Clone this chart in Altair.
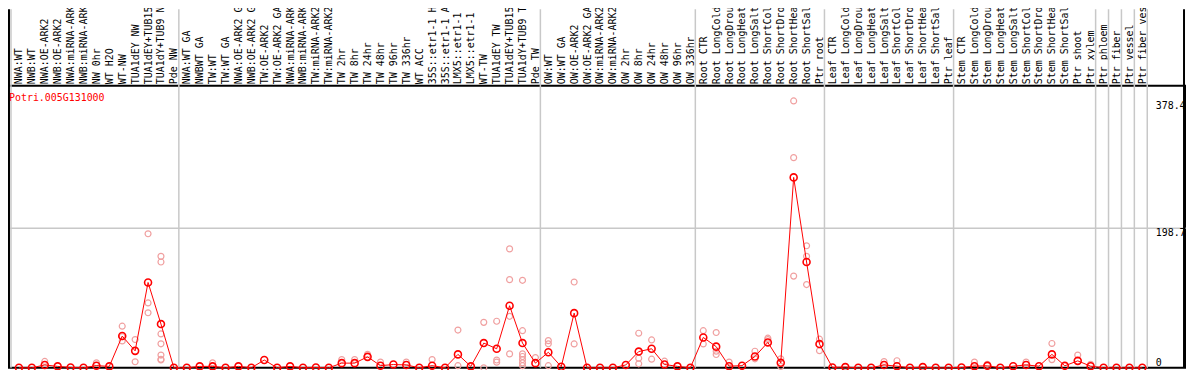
import json
import altair as alt
import pandas as pd

gene = "Potri.005G131000"

labels_nw = ["NWA:WT", "NWB:WT", "NWA:OE-ARK2", "NWB:OE-ARK2", "NWA:miRNA-ARK2",
             "NWB:miRNA-ARK2", "NW 0hr", "WT H2O", "WT-NW", "TUA1dEY NW",
             "TUA1dEY+TUB15 NW", "TUA1dY+TUB9 NW", "Pde NW"]
labels_tw = ["NWA:WT GA", "NWBWT GA", "TW:WT", "TW:WT GA", "NWA:OE-ARK2 GA",
             "NWB:OE-ARK2 GA", "TW:OE-ARK2", "TW:OE-ARK2 GA", "NWA:miRNA-ARK2 GA",
             "NWB:miRNA-ARK2 GA", "TW:miRNA-ARK2", "TW:miRNA-ARK2 GA", "TW 2hr", "TW 8hr",
             "TW 24hr", "TW 48hr", "TW 96hr", "TW 336hr", "WT ACC", "35S::etr1-1 H2O",
             "35S::etr1-1 ACC", "LMX5::etr1-1 H2O", "LMX5::etr1-1 ACC", "WT-TW",
             "TUA1dEY TW", "TUA1dEY+TUB15 TW", "TUA1dY+TUB9 TW", "Pde TW"]
labels_ow = ["OW:WT", "OW:WT GA", "OW:OE-ARK2", "OW:OE-ARK2 GA", "OW:miRNA-ARK2",
             "OW:miRNA-ARK2 GA", "OW 2hr", "OW 8hr", "OW 24hr", "OW 48hr", "OW 96hr",
             "OW 336hr"]
labels_root = ["Root CTR", "Root LongCold", "Root LongDrought", "Root LongHeat",
               "Root LongSalt", "Root ShortCold", "Root ShortDrought", "Root ShortHeat",
               "Root ShortSalt", "Ptr root"]
labels_leaf = ["Leaf CTR", "Leaf LongCold", "Leaf LongDrought", "Leaf LongHeat",
               "Leaf LongSalt", "Leaf ShortCold", "Leaf ShortDrought", "Leaf ShortHeat",
               "Leaf ShortSalt", "Ptr leaf"]
labels_stem = ["Stem CTR", "Stem LongCold", "Stem LongDrought", "Stem LongHeat",
               "Stem LongSalt", "Stem ShortCold", "Stem ShortDrought", "Stem ShortHeat",
               "Stem ShortSalt", "Ptr shoot", "Ptr xylem"]
labels_tissue = ["Ptr phloem", "Ptr fiber", "Ptr vessel", "Ptr fiber vessel"]

means_nw = [0, 0, 4, 2, 0.5, 0, 3, 2, 45, 24, 121, 62, 0]
means_tw = [0, 2, 2, 0, 2, 0, 11, 0, 2, 0, 0.5, 0, 6.6, 6.6, 15.5, 3, 4.6, 4, 0, 3,
            0, 19, 2, 35, 27, 88, 35, 6.6]
means_ow = [22, 1.5, 77.5, 0, 0, 0, 4, 23, 27, 4.7, 2, 0]
means_root = [43, 30, 2.3, 3, 16, 36, 7, 270, 150, 33.6]
means_leaf = [0.5, 1, 0, 0, 4, 2.3, 0, 1, 0, 0]
means_stem = [0.5, 2.3, 2.8, 0, 2.3, 4, 2.3, 19, 2.8, 9.8, 2.3]
means_tissue = [0, 0, 0, 0]

rep_col = [2, 6, 8, 8, 8, 9, 9, 10, 10, 10, 11, 11, 11, 11, 11, 11, 11,
           15, 25, 26, 27, 28, 30, 32, 34, 34, 36, 36, 37, 37, 37,
           38, 38, 38, 38, 39, 39, 39, 39, 39, 39, 39, 40,
           41, 41, 41, 43, 43, 48, 48, 48, 49, 49, 50,
           53, 53, 54, 54, 54, 55, 57, 57, 58, 58, 59, 59, 60, 60, 60,
           61, 61, 61, 62, 62, 67, 68, 74, 75, 78, 80, 80, 82, 83]
rep_val = [9, 7, 59, 38, 44, 40, 8.5, 190, 92, 78, 158, 150, 48, 34, 18, 12, 11,
           7, 11.7, 11.7, 19, 8, 8, 11.7, 53.5, 3, 64.4, 0, 66, 11, 8,
           168.6, 125, 73, 19.7, 124, 52.6, 19.7, 16, 11.7, 7, 3, 14.5,
           38.5, 34, 3, 121.6, 33.8, 49, 13.6, 5.6, 39.5, 12.2, 9.4,
           52.6, 33.8, 50, 23.5, 18.8, 8, 23.5, 12.7, 42, 40, 12.7, 2, 378.4, 298, 130,
           173, 158, 118, 40.6, 24.2, 8.8, 10, 8, 5, 8, 34.5, 11.6, 18, 5]

y_ticks = [0, 198.7, 378.4]

groups = [labels_nw, labels_tw, labels_ow, labels_root, labels_leaf, labels_stem]
labels = sum(groups, []) + labels_tissue
means = (means_nw + means_tw + means_ow + means_root + means_leaf + means_stem
         + means_tissue)

# group boundaries (each tissue sample in the last block is its own group)
bounds = [0]
for g in groups:
    bounds.append(bounds[-1] + len(g))
for _ in labels_tissue:
    bounds.append(bounds[-1] + 1)

W, H = 1185, 284
COL = 13.0
x0 = -11 / COL
x_domain = [x0, x0 + W / COL]

df_mean = pd.DataFrame({"idx": list(range(len(labels))), "mean": means})
df_rep = pd.DataFrame({"idx": rep_col, "val": rep_val})
df_sep = pd.DataFrame({"pos": [b - 8 / COL for b in bounds]})
df_border = pd.DataFrame({"pos": [x_domain[0] + 1 / COL, x_domain[1] - 1 / COL]})
df_gene = pd.DataFrame({"t": [gene]})

mono = "DejaVu Sans Mono"
xscale = alt.Scale(domain=x_domain, nice=False, zero=False)
yscale = alt.Scale(domain=[0, 400], nice=False, zero=True)

xaxis = alt.Axis(
    orient="top", values=list(range(len(labels))),
    labelExpr=json.dumps(labels) + "[datum.value]",
    labelAngle=270, labelAlign="left", labelBaseline="middle",
    labelPadding=2, labelFont=mono, labelFontSize=10, labelColor="black",
    labelOverlap=False, labelFlush=False, labelBound=False, labelLimit=300,
    ticks=False, tickSize=0, domain=False, grid=False, title=None,
)
yaxis = alt.Axis(
    orient="right", values=y_ticks, format=".1~f",
    labelAlign="left", labelPadding=-30,
    labelBaseline={"condition": {"test": "datum.value == 0", "value": "bottom"}, "value": "top"},
    labelFont=mono, labelFontSize=10, labelColor="black",
    labelOverlap=False, labelFlush=False, labelBound=False,
    ticks=False, tickSize=0, domain=False, title=None,
    grid=True, gridColor="#c8c8c8", gridWidth=1.5,
    gridOpacity={"condition": {"test": "datum.value > 100 && datum.value < 300", "value": 1}, "value": 0},
)


def X(field):
    return alt.X(field, type="quantitative", scale=xscale, axis=xaxis)


def Y(field):
    return alt.Y(field, type="quantitative", scale=yscale, axis=yaxis)


seps = alt.Chart(df_sep).mark_rule(color="#c8c8c8", strokeWidth=1.5).encode(
    x=X("pos"), y=alt.value(-77), y2=alt.value(H))
borders = alt.Chart(df_border).mark_rule(color="black", strokeWidth=2).encode(
    x=X("pos"), y=alt.value(-77), y2=alt.value(H))
reps = alt.Chart(df_rep).mark_point(shape="circle", filled=False, color="#f0a0a0",
                                    size=36, strokeWidth=1.2, opacity=1).encode(
    x=X("idx"), y=Y("val"))
line = alt.Chart(df_mean).mark_line(color="#ff0000", strokeWidth=1).encode(
    x=X("idx"), y=Y("mean"))
pts = alt.Chart(df_mean).mark_point(shape="circle", filled=False, color="#ff0000",
                                    size=49, strokeWidth=1.6, opacity=1).encode(
    x=X("idx"), y=Y("mean"))
gene_txt = alt.Chart(df_gene).mark_text(align="left", baseline="middle", font=mono,
                                        fontSize=10, color="#ff0000").encode(
    x=alt.value(1), y=alt.value(12), text="t:N")

chart = alt.layer(seps, borders, reps, line, pts, gene_txt).properties(
    width=W, height=H,
    autosize=alt.AutoSizeParams(type="none"),
    padding={"left": 0, "top": 77, "right": 1, "bottom": 1},
    background="white",
).configure_view(stroke="black", strokeWidth=2)

chart.save("out.html", embed_options={"renderer": "svg", "actions": False})
